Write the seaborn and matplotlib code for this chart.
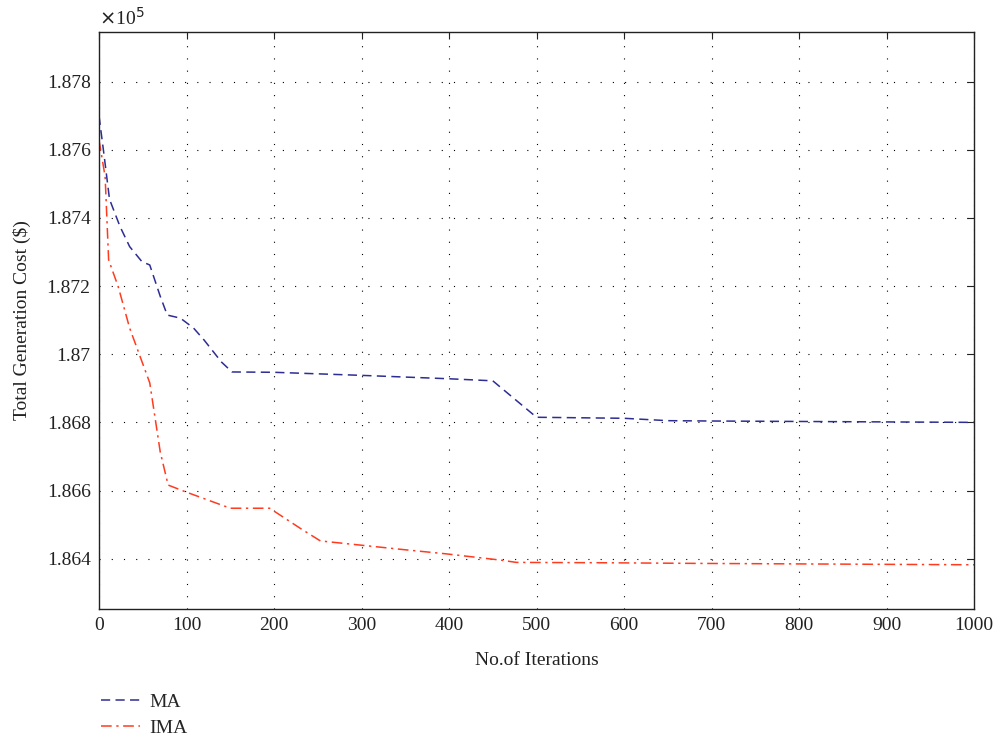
## Convergence curves: MA vs IMA total generation cost

import numpy as np
import pandas as pd
import matplotlib
matplotlib.use('Agg')
import matplotlib.pyplot as plt
import seaborn as sns

# values (cost in units of 1e5 $)
ma_iter = [0, 6, 12, 24, 35, 49, 58, 70, 78, 93, 108, 120, 140, 152, 200,
           300, 400, 450, 500, 600, 650, 700, 1000]
ma_cost = [1.8770, 1.8758, 1.87455, 1.87375, 1.87316, 1.87272, 1.87262, 1.8717,
           1.87115, 1.87106, 1.87077, 1.87042, 1.86977, 1.86948, 1.86947,
           1.86938, 1.86928, 1.86922, 1.86815, 1.86812, 1.86805, 1.86804, 1.86800]

ima_iter = [0, 7, 11, 22, 35, 58, 70, 79, 98, 150, 195, 230, 253, 350, 397,
            458, 477, 573, 687, 1000]
ima_cost = [1.87629, 1.87521, 1.87277, 1.87198, 1.87077, 1.86916, 1.86713,
            1.86616, 1.86597, 1.86548, 1.86548, 1.86489, 1.86452, 1.86426,
            1.86414, 1.86396, 1.86389, 1.86388, 1.86386, 1.86382]

methods = ['MA', 'IMA']
colors = {'MA': '#2d2d94', 'IMA': '#ff3b1f'}

df = pd.concat([
    pd.DataFrame({'iter': ma_iter, 'cost': ma_cost, 'Method': 'MA'}),
    pd.DataFrame({'iter': ima_iter, 'cost': ima_cost, 'Method': 'IMA'}),
])

sns.set_style('white')
plt.rcParams['font.family'] = ['Liberation Serif', 'DejaVu Serif']

fig = plt.figure(figsize=(9.98, 7.4), dpi=100)
ax = fig.add_axes([0.0992, 0.1774, 0.8768, 0.7794])

sns.lineplot(data=df, x='iter', y='cost', hue='Method', style='Method',
             hue_order=methods, style_order=methods, palette=colors,
             dashes={'MA': (6, 3.5), 'IMA': (7, 3, 1.5, 3)},
             linewidth=1.1, estimator=None, sort=False, ax=ax)

ax.set_xlim(0, 1000)
ax.set_ylim(1.86253, 1.87946)
ax.set_xticks(np.arange(0, 1001, 100))
ax.set_yticks([1.864, 1.866, 1.868, 1.870, 1.872, 1.874, 1.876, 1.878])
ax.yaxis.set_major_formatter(plt.FuncFormatter(lambda v, p: f'{v:.4g}'))

ax.grid(True, color='black', linestyle=(0, (1, 10)), linewidth=0.8)
ax.tick_params(direction='in', length=5, width=0.8, top=True, right=True,
               labelsize=14, colors='#222222', pad=6)
for s in ax.spines.values():
    s.set_visible(True)
    s.set_color('#222222')
    s.set_linewidth(1.0)

ax.set_xlabel('No.of Iterations', fontsize=14, color='#222222', labelpad=13)
ax.set_ylabel('Total Generation Cost ($)', fontsize=14, color='#222222', labelpad=11)
ax.text(0, 1.005, r'$\times$10$^5$', transform=ax.transAxes, fontsize=14,
        color='#222222', ha='left', va='bottom')

leg = ax.legend(loc='upper left', bbox_to_anchor=(-0.007, -0.133), frameon=False,
                fontsize=14, handlelength=2.0, labelspacing=0.42, borderaxespad=0,
                handletextpad=0.5)

plt.savefig('out.png', dpi=100)
plt.close()
